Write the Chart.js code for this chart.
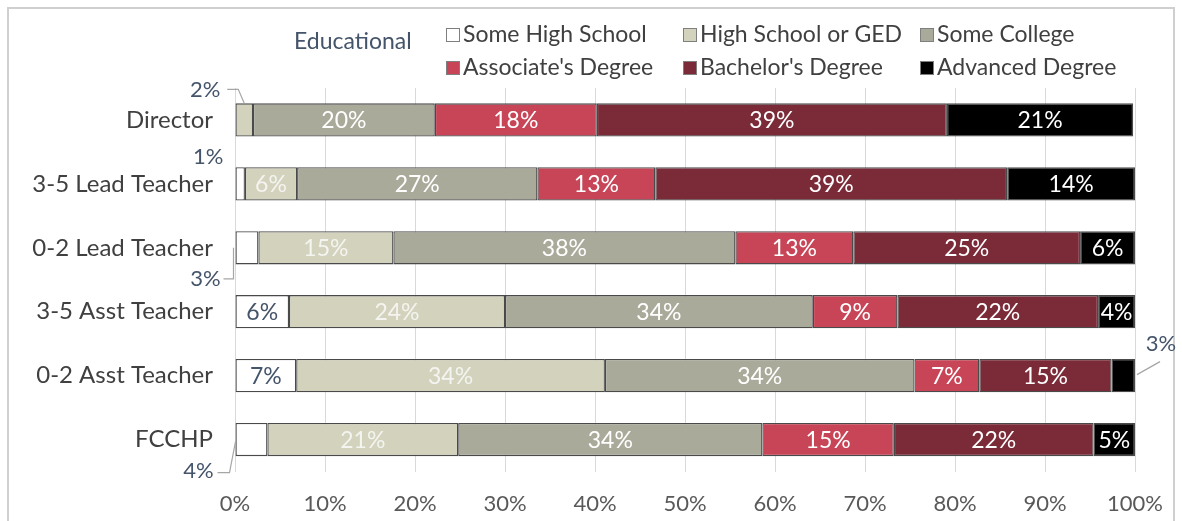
<!DOCTYPE html>
<html><head><meta charset="utf-8">
<script src="https://cdn.jsdelivr.net/npm/chart.js@4.4.0/dist/chart.umd.min.js"></script>
<style>
html,body{margin:0;padding:0;background:#fff;}
#wrap{position:relative;width:1182px;height:521px;overflow:hidden;}
#frame{position:absolute;left:7px;top:7px;width:1168px;height:540px;border:2px solid #cfcfcf;box-sizing:border-box;}
#c{position:absolute;left:0;top:0;}
</style></head><body>
<div id="wrap"><div id="frame"></div><canvas id="c" width="1182" height="521"></canvas></div>
<script>
const categories = ['Director', '3-5 Lead Teacher', '0-2 Lead Teacher', '3-5 Asst Teacher', '0-2 Asst Teacher', 'FCCHP'];
const seriesNames = ['Some High School', 'High School or GED', 'Some College', "Associate's Degree", "Bachelor's Degree", 'Advanced Degree'];
const someHighSchool = [0, 1.1, 2.6, 6, 6.8, 3.6];
const highSchoolGED = [2, 5.8, 15, 24, 34.3, 21.2];
const someCollege = [20.2, 26.7, 38, 34.2, 34.4, 33.8];
const associates = [18, 13.1, 13.1, 9.4, 7.2, 14.6];
const bachelors = [38.9, 39.1, 25.2, 22.3, 14.7, 22.2];
const advanced = [20.7, 14.2, 6.1, 4.1, 2.6, 4.6];
const xTickValues = [0, 10, 20, 30, 40, 50, 60, 70, 80, 90, 100];
const legendTitle = 'Educational';

const seriesColors = ['#ffffff', '#d3d2bd', '#aaaa9b', '#c84457', '#7b2a38', '#000000'];
const labelColors = ['#44546a', '#f4f4f0', '#ffffff', '#ffffff', '#ffffff', '#ffffff'];
const FONT = 'Lato, "Open Sans", sans-serif';

const seriesValues = [someHighSchool, highSchoolGED, someCollege, associates, bachelors, advanced];
const datasets = seriesNames.map((name, i) => ({
  label: name,
  data: seriesValues[i],
  backgroundColor: seriesColors[i],
  borderColor: '#4a4a4a',
  borderWidth: 1.3,
  borderSkipped: false,
  categoryPercentage: 1,
  barPercentage: 0.52
}));

// callouts for small segments: [row, series]
const callouts = [[0, 1], [1, 0], [2, 0], [4, 5], [5, 0]];
const isCallout = (r, s) => callouts.some(c => c[0] === r && c[1] === s);

const labelPlugin = {
  id: 'segLabels',
  afterDatasetsDraw(chart) {
    const ctx = chart.ctx;
    ctx.save();
    ctx.font = '23px ' + FONT;
    ctx.textAlign = 'center';
    ctx.textBaseline = 'middle';
    chart.data.datasets.forEach((ds, s) => {
      const meta = chart.getDatasetMeta(s);
      meta.data.forEach((el, r) => {
        const v = ds.data[r];
        if (!v || isCallout(r, s)) return;
        const cx = (el.x + el.base) / 2;
        ctx.fillStyle = labelColors[s];
        ctx.fillText(Math.round(v) + '%', cx, el.y + 1);
      });
    });
    // callouts
    ctx.font = '22px ' + FONT;
    ctx.fillStyle = '#44546a';
    ctx.strokeStyle = '#a6a6a6';
    ctx.lineWidth = 1.2;
    const geo = (r, s) => {
      const el = chart.getDatasetMeta(s).data[r];
      return {l: Math.min(el.x, el.base), rr: Math.max(el.x, el.base), cx: (el.x + el.base) / 2, y: el.y, top: el.y - el.height / 2, bot: el.y + el.height / 2, v: chart.data.datasets[s].data[r]};
    };
    const txt = (g, x, y) => ctx.fillText(Math.round(g.v) + '%', x, y);
    const line = pts => { ctx.beginPath(); ctx.moveTo(pts[0][0], pts[0][1]); pts.slice(1).forEach(p => ctx.lineTo(p[0], p[1])); ctx.stroke(); };
    let g;
    g = geo(0, 1); txt(g, g.cx - 39, g.top - 13); line([[g.cx - 17, g.top - 14], [g.cx - 6, g.top - 14], [g.cx, g.top]]);
    g = geo(1, 0); txt(g, g.cx - 32, g.top - 10);
    g = geo(2, 0); txt(g, g.l - 30, g.y + 31); line([[g.l - 12, g.y + 31], [g.l - 2, g.y + 31], [g.l - 2, g.y]]);
    g = geo(4, 5); txt(g, g.rr + 26, g.y - 32); line([[g.rr + 25, g.y - 14], [g.rr + 2, g.y - 1]]);
    g = geo(5, 0); txt(g, g.l - 37, g.y + 31); line([[g.l - 18, g.y + 33], [g.l - 6, g.y + 33], [g.l, g.y + 2]]);
    ctx.restore();
  }
};

const legendPlugin = {
  id: 'gridLegend',
  afterDraw(chart) {
    const ctx = chart.ctx;
    ctx.save();
    ctx.font = '23px ' + FONT;
    ctx.textBaseline = 'middle';
    ctx.textAlign = 'left';
    ctx.fillStyle = '#44546a';
    ctx.fillText(legendTitle, 294, 42);
    const cols = [446, 683, 920], rows = [35, 68];
    chart.data.datasets.forEach((ds, i) => {
      const x = cols[i % 3], y = rows[Math.floor(i / 3)];
      ctx.fillStyle = ds.backgroundColor;
      ctx.fillRect(x, y - 7, 14, 14);
      ctx.strokeStyle = '#7f7f7f';
      ctx.lineWidth = 1;
      ctx.strokeRect(x + 0.5, y - 6.5, 13, 13);
      ctx.fillStyle = '#404040';
      ctx.fillText(ds.label, x + 17, y);
    });
    ctx.restore();
  }
};

new Chart(document.getElementById('c'), {
  type: 'bar',
  data: { labels: categories, datasets },
  options: {
    indexAxis: 'y',
    responsive: false,
    animation: false,
    layout: { padding: { left: 0, top: 88, right: 47, bottom: 0 } },
    plugins: { legend: { display: false }, tooltip: { enabled: false } },
    scales: {
      x: {
        stacked: true, min: 0, max: 100,
        afterBuildTicks: sc => { sc.ticks = xTickValues.map(v => ({ value: v })); },
        afterFit: sc => { sc.height = 49.5; },
        grid: { color: '#d9d9d9', drawTicks: false, lineWidth: 1 },
        border: { display: false },
        ticks: { padding: 19, color: '#595959', font: { family: FONT, size: 22 }, callback: v => v + '%' }
      },
      y: {
        stacked: true,
        afterFit: sc => { sc.width = 235; },
        grid: { display: false, drawTicks: false },
        border: { display: false },
        ticks: { padding: 22, color: '#404040', font: { family: FONT, size: 24 } }
      }
    }
  },
  plugins: [labelPlugin, legendPlugin]
});
</script>
</body></html>
